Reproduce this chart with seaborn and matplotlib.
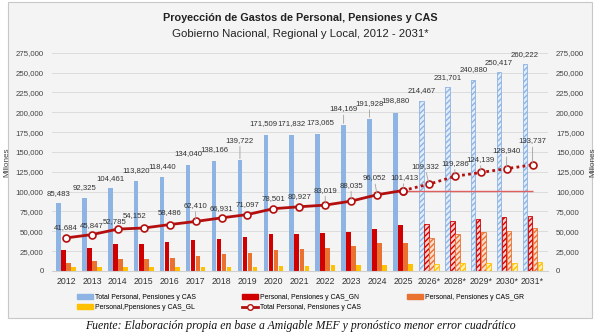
import matplotlib
matplotlib.use("Agg")
import matplotlib.pyplot as plt
from matplotlib import font_manager
import seaborn as sns
import pandas as pd
import numpy as np
from matplotlib.patches import Rectangle, Patch
from matplotlib.lines import Line2D

years = ["2012", "2013", "2014", "2015", "2016", "2017", "2018", "2019", "2020",
         "2021", "2022", "2023", "2024", "2025", "2026*", "2028*", "2029*", "2030*", "2031*"]
total_bar = [85483, 92325, 104461, 113820, 118440, 134040, 138166, 139722, 171509,
             171832, 173065, 184169, 191928, 198880, 214467, 231701, 240880, 250417, 260222]
gn = [26500, 29000, 33500, 34200, 36700, 38600, 40700, 42800, 46200,
      46700, 47500, 49300, 52600, 57500, 58700, 63000, 65500, 67800, 69300]
gr = [10500, 12300, 14800, 15300, 16900, 18700, 20800, 22700, 26100,
      27600, 28500, 31500, 35500, 35500, 41700, 46800, 48600, 50700, 53600]
gl = [4700, 4500, 4500, 4600, 4900, 5100, 5400, 5600, 6200,
      6600, 7000, 7200, 8000, 8400, 8900, 9500, 10000, 10400, 10800]
line_total = [41684, 45847, 52785, 54152, 58486, 62410, 66931, 71097, 78501,
              80927, 83019, 88035, 96052, 101413, 109332, 119286, 124139, 128940, 133737]
n_hist = 14

s_total = "Total Personal, Pensiones y CAS"
s_gn = "Personal, Pensiones y CAS_GN"
s_gr = "Personal, Pensiones y CAS_GR"
s_gl = "Personal,Ppensiones y CAS_GL"
s_line = "Total Personal, Pensiones y CAS"
series = [s_total, s_gn, s_gr, s_gl]

# style (label offsets in pixels)
colors = ["#8db4e2", "#d00000", "#e97132", "#ffc000"]
light = ["#e3edf9", "#f8d0d0", "#f9dccb", "#fff1c4"]
bar_lab_dy = [6, 6, 6, 6, 6, 7, 8, 16, 7, 7, 7, 12, 11, 9, 6, 6, 6, 6, 6]
bar_lab_dx = [0, 0, 0, 0, 0, 0, 0, 0, -2, 0, 3, 0, 0, 0, 0, 0, 0, 0, 0]
line_lab_dy = [10, 9, 8, 12, 12, 16, 9, 10, 10, 10, 15, 16, 17, 13, 18, 13, 13, 18, 24]
line_lab_dx = [0, 0, -3, -9, 0, 0, 0, 0, 0, 0, 0, 0, -3, 1, -4, 0, 0, 0, 0]

names = {f.name for f in font_manager.fontManager.ttflist}
narrow = "Liberation Sans Narrow" in names
NF = ["Liberation Sans Narrow", "Liberation Sans"] if narrow else ["Liberation Sans"]
sc = 1.0 if narrow else 0.82
plt.rcParams["font.family"] = ["Liberation Sans", "DejaVu Sans"]

df = pd.DataFrame({
    "year": years * 4,
    "serie": [s for s in series for _ in years],
    "valor": total_bar + gn + gr + gl,
})

BG = "#f4f4f4"
fig = plt.figure(figsize=(6.0, 3.36), dpi=100)
fig.patch.set_facecolor("white")
fig.patches.append(Rectangle((0.013, 0.053), 0.974, 0.942, transform=fig.transFigure,
                             facecolor=BG, edgecolor="#c8c8c8", lw=0.8, zorder=-10))
ax = fig.add_axes([0.0867, 0.1935, 0.826, 0.6495])
ax.set_facecolor(BG)

sns.barplot(data=df, x="year", y="valor", hue="serie", hue_order=series,
            palette=colors, width=0.78, gap=0.1, ax=ax, legend=False,
            saturation=1, errorbar=None)

plt.rcParams["hatch.linewidth"] = 1.1
for k, cont in enumerate(ax.containers):
    for i, p in enumerate(cont.patches):
        p.set_linewidth(0)
        if i >= n_hist:
            p.set_facecolor(light[k])
            p.set_hatch("//////")
            p.set_edgecolor(colors[k])
            p.set_linewidth(0.6)

x = np.arange(len(years))
lc = "#b40f0f"
sns.lineplot(x=x[:n_hist], y=line_total[:n_hist], ax=ax, color=lc, lw=2.0,
             marker="o", markersize=5, markerfacecolor="white",
             markeredgecolor=lc, markeredgewidth=1.2, zorder=5)
sns.lineplot(x=x[n_hist - 1:], y=line_total[n_hist - 1:], ax=ax, color=lc, lw=2.0,
             linestyle=(0, (1, 1.2)), marker="o", markersize=5, markerfacecolor="white",
             markeredgecolor=lc, markeredgewidth=1.2, zorder=5)
ax.hlines(line_total[n_hist - 1], n_hist - 1, len(years) - 1, color="#e06060",
          lw=1.0, zorder=4)

lab_fs = 5.6
lead = dict(arrowstyle="-", color="#a0a0a0", lw=0.6, shrinkA=0, shrinkB=1)
for i, v in enumerate(total_bar):
    dy = bar_lab_dy[i]
    ax.annotate(f"{v:,}", xy=(i - 0.29, v), xytext=(bar_lab_dx[i], dy + 4),
                textcoords="offset pixels", ha="center", va="center",
                fontsize=lab_fs, color="#333333", zorder=6,
                arrowprops=lead if dy > 10 else None)
for i, v in enumerate(line_total):
    dy = line_lab_dy[i]
    ax.annotate(f"{v:,}", xy=(i, v), xytext=(line_lab_dx[i], dy),
                textcoords="offset pixels", ha="center", va="center",
                fontsize=lab_fs, color="#333333", zorder=6,
                arrowprops=lead if dy > 12 else None)

ax.set_xlim(-0.54, len(years) - 1 + 0.58)
ax.set_ylim(0, 275000)
ticks = np.arange(0, 275001, 25000)
ax.set_yticks(ticks)
ax.set_yticklabels([f"{t:,}" for t in ticks], fontsize=5.7, color="#444444")
ax.tick_params(axis="x", labelsize=6.3, colors="#333333", length=0, pad=4)
ax.tick_params(axis="y", length=0, pad=6)
ax.set_xlabel("")
ax.set_ylabel("Millones", fontsize=5.9, color="#444444", labelpad=4)
ax.grid(axis="y", color="#dcdcdc", lw=0.7)
ax.set_axisbelow(True)
for sp in ax.spines.values():
    sp.set_visible(False)
ax.spines["bottom"].set_visible(True)
ax.spines["bottom"].set_color("#d0d0d0")

ax2 = ax.twinx()
ax2.set_ylim(0, 275000)
ax2.set_yticks(ticks)
ax2.set_yticklabels([f"{t:,}" for t in ticks], fontsize=5.7, color="#444444")
ax2.tick_params(axis="y", length=0, pad=6)
ax2.set_ylabel("Millones", fontsize=5.9, color="#444444", rotation=90, labelpad=4)
for sp in ax2.spines.values():
    sp.set_visible(False)

fig.text(0.5, 1 - 18 / 336, "Proyección de Gastos de Personal, Pensiones y CAS",
         ha="center", va="center", fontsize=9.6 * sc, fontweight="bold",
         color="#222222", family=NF)
fig.text(0.5, 1 - 34 / 336, "Gobierno Nacional, Regional y Local, 2012 - 2031*",
         ha="center", va="center", fontsize=10.0 * sc, color="#222222", family=NF)

leg_kw = dict(frameon=False, loc="upper left", borderpad=0, borderaxespad=0,
              handlelength=2.4, handleheight=0.65, handletextpad=0.25,
              labelspacing=0.45, prop={"family": NF, "size": 6.0 * sc})
cols = [
    ([Patch(color=colors[0]), Patch(color=colors[3])], [s_total, s_gl], 77),
    ([Patch(color=colors[1]),
      Line2D([0], [0], color=lc, lw=2, marker="o", markersize=4,
             markerfacecolor="white", markeredgecolor=lc)], [s_gn, s_line], 242),
    ([Patch(color=colors[2])], [s_gr], 407),
]
for h, l, px in cols:
    fig.legend(h, l, bbox_to_anchor=(px / 600, 1 - 294 / 336), **leg_kw)

fig.text(0.5, 1 - 326 / 336,
         "Fuente: Elaboración propia en base a Amigable MEF y pronóstico menor error cuadrático",
         ha="center", va="center", fontsize=8.5, style="italic",
         family="Liberation Serif", color="#111111")

fig.savefig("out.png", dpi=100, facecolor="white")
